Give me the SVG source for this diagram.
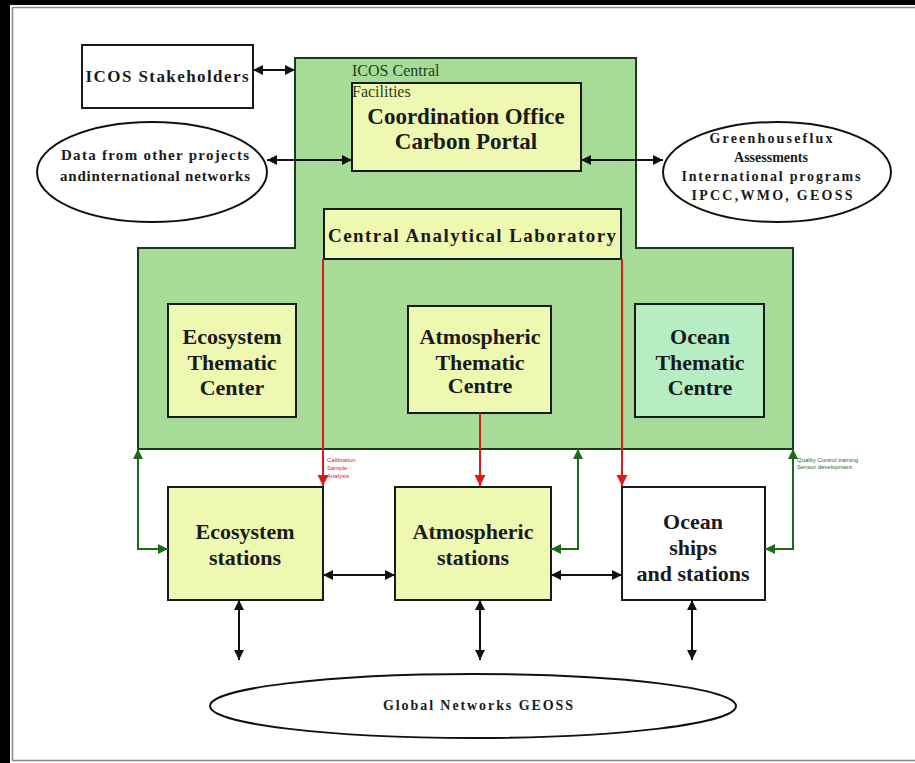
<svg xmlns="http://www.w3.org/2000/svg" width="915" height="763" viewBox="0 0 915 763">
<style>
.box{stroke:#1a1a1a;stroke-width:2}
.yel{fill:#eef8b0}
.t{font-family:"Liberation Serif",serif;font-weight:bold;fill:#1a1a1a;text-anchor:middle}
.big{font-size:22px}
.mid{font-size:19px}
.sm{font-size:14px}
.lbl{font-family:"Liberation Serif",serif;font-size:16px;fill:#1e3e1e}
.tiny{font-family:"Liberation Sans",sans-serif;font-size:6px}
.conn{fill:none;stroke-width:2}
.blk{stroke:#111}
.grn{stroke:#1d6a1d}
.red{stroke:#e01818}
</style>
<defs>
<marker id="ab" viewBox="0 0 10 10" refX="10" refY="5" markerWidth="11" markerHeight="10" markerUnits="userSpaceOnUse" orient="auto-start-reverse"><path d="M0,0 L10,5 L0,10 z" fill="#111"/></marker>
<marker id="ag" viewBox="0 0 10 10" refX="10" refY="5" markerWidth="11" markerHeight="10" markerUnits="userSpaceOnUse" orient="auto-start-reverse"><path d="M0,0 L10,5 L0,10 z" fill="#1d6a1d"/></marker>
<marker id="ar" viewBox="0 0 10 10" refX="10" refY="5" markerWidth="11" markerHeight="12" markerUnits="userSpaceOnUse" orient="auto"><path d="M0,0 L10,5 L0,10 z" fill="#e01818"/></marker>
</defs>
<rect x="0" y="0" width="915" height="763" fill="#000"/>
<rect x="10" y="5" width="905" height="758" fill="#fff"/>
<rect x="12.5" y="7.5" width="910" height="753" fill="none" stroke="#888" stroke-width="1.5"/>

<g id="central-facilities">
<path d="M295,58 H636 V248 H793 V449 H138 V248 H295 Z" fill="#a6db98" stroke="#1a3a1a" stroke-width="2"/>
</g>

<g id="stakeholders">
<rect class="box" x="82" y="45" width="171" height="63" fill="#fff"/>
<text class="t" x="167" y="82" style="font-size:17px" textLength="163" lengthAdjust="spacing">ICOS Stakeholders</text>
</g>

<g id="data-other">
<ellipse cx="152" cy="172" rx="115" ry="50" fill="#fff" stroke="#111" stroke-width="2"/>
<text class="t" x="155" y="160" style="font-size:15px" textLength="188" lengthAdjust="spacing">Data from other projects</text>
<text class="t" x="155" y="181" style="font-size:15px" textLength="190" lengthAdjust="spacing">andinternational networks</text>
</g>

<g id="coordination">
<rect class="box yel" x="352" y="83" width="229" height="88"/>
<text class="t" x="466" y="124" style="font-size:23px">Coordination Office</text>
<text class="t" x="466" y="149" style="font-size:23px">Carbon Portal</text>
</g>

<g id="central-facilities-label">
<text class="lbl" x="352" y="76">ICOS Central</text>
<text class="lbl" x="352" y="97">Facilities</text>
</g>

<g id="greenhouse">
<ellipse cx="777" cy="172" rx="114" ry="50" fill="#fff" stroke="#111" stroke-width="2"/>
<text class="t sm" x="771" y="143" textLength="123" lengthAdjust="spacing">Greenhouseflux</text>
<text class="t sm" x="771" y="162">Assessments</text>
<text class="t sm" x="771" y="181" textLength="179" lengthAdjust="spacing">International programs</text>
<text class="t sm" x="772" y="200" textLength="161" lengthAdjust="spacing">IPCC,WMO, GEOSS</text>
</g>

<g id="cal">
<rect class="box yel" x="324" y="209" width="297" height="50"/>
<text class="t mid" x="472" y="242" textLength="288" lengthAdjust="spacing">Central Analytical Laboratory</text>
</g>

<g id="etc">
<rect class="box yel" x="168" y="304" width="128" height="113"/>
<text class="t big" x="232" y="344">Ecosystem</text>
<text class="t big" x="232" y="370">Thematic</text>
<text class="t big" x="232" y="395">Center</text>
</g>

<g id="atc">
<rect class="box yel" x="408" y="306" width="143" height="107"/>
<text class="t big" x="480" y="344">Atmospheric</text>
<text class="t big" x="480" y="370">Thematic</text>
<text class="t big" x="480" y="393">Centre</text>
</g>

<g id="otc">
<rect class="box" x="635" y="304" width="129" height="113" fill="#b6edc2"/>
<text class="t big" x="700" y="344">Ocean</text>
<text class="t big" x="700" y="370">Thematic</text>
<text class="t big" x="700" y="395">Centre</text>
</g>

<g id="eco-stations">
<rect class="box yel" x="168" y="487" width="155" height="113"/>
<text class="t big" x="245" y="539">Ecosystem</text>
<text class="t big" x="245" y="565">stations</text>
</g>

<g id="atm-stations">
<rect class="box yel" x="395" y="487" width="156" height="113"/>
<text class="t big" x="473" y="539">Atmospheric</text>
<text class="t big" x="473" y="565">stations</text>
</g>

<g id="ocean-stations">
<rect class="box" x="622" y="487" width="143" height="113" fill="#fff"/>
<text class="t big" x="693" y="529">Ocean</text>
<text class="t big" x="693" y="555">ships</text>
<text class="t big" x="693" y="581">and stations</text>
</g>

<g id="global">
<ellipse cx="473" cy="706" rx="263" ry="32" fill="#fff" stroke="#111" stroke-width="2"/>
<text class="t" x="478" y="710" style="font-size:14px" textLength="190" lengthAdjust="spacing">Global Networks GEOSS</text>
</g>

<g id="connectors">
<line class="conn blk" x1="253" y1="70" x2="295" y2="70" marker-start="url(#ab)" marker-end="url(#ab)"/>
<line class="conn blk" x1="267" y1="160" x2="352" y2="160" marker-start="url(#ab)" marker-end="url(#ab)"/>
<line class="conn blk" x1="581" y1="160" x2="663" y2="160" marker-start="url(#ab)" marker-end="url(#ab)"/>
<line class="conn blk" x1="323" y1="575" x2="395" y2="575" marker-start="url(#ab)" marker-end="url(#ab)"/>
<line class="conn blk" x1="551" y1="575" x2="622" y2="575" marker-start="url(#ab)" marker-end="url(#ab)"/>
<line class="conn blk" x1="239" y1="600" x2="239" y2="660" marker-start="url(#ab)" marker-end="url(#ab)"/>
<line class="conn blk" x1="480" y1="600" x2="480" y2="660" marker-start="url(#ab)" marker-end="url(#ab)"/>
<line class="conn blk" x1="692" y1="600" x2="692" y2="660" marker-start="url(#ab)" marker-end="url(#ab)"/>
<line class="conn red" x1="323" y1="259" x2="323" y2="486" marker-end="url(#ar)"/>
<line class="conn red" x1="622" y1="259" x2="622" y2="486" marker-end="url(#ar)"/>
<line class="conn red" x1="480" y1="413" x2="480" y2="486" marker-end="url(#ar)"/>
<polyline class="conn grn" points="168,549 138,549 138,449" marker-start="url(#ag)" marker-end="url(#ag)"/>
<polyline class="conn grn" points="551,549 578,549 578,449" marker-start="url(#ag)" marker-end="url(#ag)"/>
<polyline class="conn grn" points="765,549 793,549 793,449" marker-start="url(#ag)" marker-end="url(#ag)"/>
<text class="tiny" x="327" y="462" fill="#e01818">Calibration</text>
<text class="tiny" x="327" y="470" fill="#e01818">Sample</text>
<text class="tiny" x="327" y="478" fill="#e01818">Analysis</text>
<text class="tiny" x="797" y="462" fill="#1d6a1d">Quality Control training</text>
<text class="tiny" x="797" y="469" fill="#1d6a1d">Sensor development</text>
</g>
</svg>
